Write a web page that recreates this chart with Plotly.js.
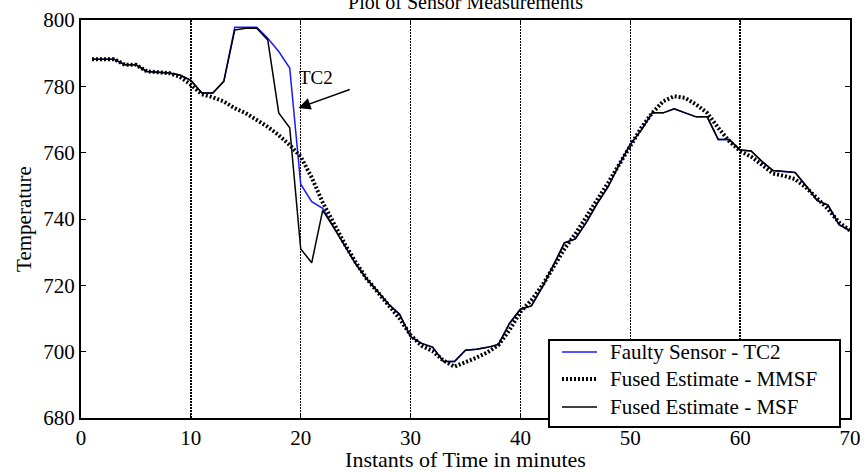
<!DOCTYPE html>
<html>
<head>
<meta charset="utf-8">
<script src="https://cdn.plot.ly/plotly-3.0.1.min.js"></script>
<style>
  html, body { margin: 0; padding: 0; background: #fff; }
  #chart { width: 867px; height: 472px; }
</style>
</head>
<body>
<div id="chart"></div>
<script>
// Time instants (minutes)
const minutes = [
  1, 2, 3, 4, 5, 6, 7, 8, 9, 10,
  11, 12, 13, 14, 15, 16, 17, 18, 19, 20,
  21, 22, 23, 24, 25, 26, 27, 28, 29, 30,
  31, 32, 33, 34, 35, 36, 37, 38, 39, 40,
  41, 42, 43, 44, 45, 46, 47, 48, 49, 50,
  51, 52, 53, 54, 55, 56, 57, 58, 59, 60,
  61, 62, 63, 64, 65, 66, 67, 68, 69, 70
];

// Raw reading of the faulty thermocouple TC2
const faultyTC2 = [
  788.2, 788.2, 788.2, 786.5, 786.5, 784.5, 784.2, 784.0, 783.4, 781.8,
  778.0, 778.0, 781.5, 797.8, 797.8, 797.8, 794.5, 790.5, 785.5, 750.5,
  745.2, 743.2, 737.5, 732.0, 726.5, 722.0, 718.0, 714.3, 711.3, 704.5,
  702.5, 701.4, 697.0, 697.0, 700.4, 700.7, 701.3, 702.2, 708.5, 712.8,
  713.8, 719.5, 726.0, 732.8, 734.0, 739.0, 744.7, 749.8, 756.5, 762.5,
  766.8, 772.0, 772.0, 773.2, 772.0, 770.8, 770.8, 764.0, 764.0, 760.8,
  760.5, 757.3, 754.6, 754.4, 754.0, 750.0, 745.6, 744.2, 738.3, 736.5
];

// Fused estimate from the MMSF algorithm
const fusedMMSF = [
  788.2, 788.2, 788.2, 786.5, 786.5, 784.5, 784.2, 784.0, 782.9, 780.5,
  777.6, 776.7, 775.4, 773.4, 771.9, 770.0, 767.8, 765.3, 762.3, 758.8,
  752.5, 745.0, 738.5, 732.5, 727.0, 722.0, 718.0, 714.0, 710.0, 705.0,
  701.8, 700.2, 697.3, 695.5, 696.8, 698.2, 699.8, 702.0, 706.5, 712.0,
  715.5, 720.0, 725.5, 731.0, 735.5, 740.5, 746.0, 751.0, 756.5, 762.0,
  767.5, 772.0, 775.5, 777.0, 776.5, 774.5, 772.0, 767.5, 763.5, 760.5,
  758.8, 756.3, 753.7, 753.0, 752.0, 749.5, 746.3, 743.0, 739.0, 736.5
];

// Fused estimate from the MSF algorithm
const fusedMSF = [
  788.2, 788.2, 788.2, 786.5, 786.5, 784.5, 784.2, 784.0, 783.4, 781.8,
  778.0, 778.0, 781.5, 797.0, 797.5, 797.5, 794.0, 772.0, 767.5, 731.0,
  726.8, 742.6, 737.5, 732.0, 726.5, 722.0, 718.0, 714.3, 711.3, 704.5,
  702.5, 701.4, 697.0, 697.0, 700.4, 700.7, 701.3, 702.2, 708.5, 712.8,
  713.8, 719.5, 726.0, 732.8, 734.0, 739.0, 744.7, 749.8, 756.5, 762.5,
  766.8, 772.0, 772.0, 773.2, 772.0, 770.8, 770.8, 764.0, 764.0, 760.8,
  760.5, 757.3, 754.6, 754.4, 754.0, 750.0, 745.6, 744.2, 738.3, 736.5
];

const seriesNames = ['Faulty Sensor - TC2', 'Fused Estimate - MMSF', 'Fused Estimate - MSF'];
const xTicks = [0, 10, 20, 30, 40, 50, 60, 70];
const yTicks = [680, 700, 720, 740, 760, 780, 800];

// Arrow pointing at the TC2 trace: [tip x, tip y, tail x, tail y]
const tc2Arrow = [19.8, 773.5, 24.6, 779.2];
const tc2Label = [21.4, 782.8];

const serif = 'Liberation Serif, Times New Roman, serif';

const lineStyles = [
  { color: '#1a1aff', width: 1.5 },
  { color: '#000', width: 4, dash: '2px,2px' },
  { color: '#000', width: 1.5 }
];
const seriesData = [faultyTC2, fusedMMSF, fusedMSF];

const traces = seriesData.map((vals, i) => ({
  x: minutes, y: vals, name: seriesNames[i], type: 'scatter', mode: 'lines',
  line: lineStyles[i], showlegend: false
}));

// Boxed key in the lower right corner of the axes (paper coordinates)
const keyBox = { x0: 0.6086, x1: 0.987, y0: -0.0226, y1: 0.196 };
const keyRows = [0.1658, 0.098, 0.0276];
const keySample = [0.6255, 0.671];
const keyTextX = 0.6853;

const shapes = [
  {
    type: 'rect', xref: 'paper', yref: 'paper', layer: 'above',
    x0: keyBox.x0, x1: keyBox.x1, y0: keyBox.y0, y1: keyBox.y1,
    fillcolor: '#fff', line: { color: '#000', width: 2 }
  }
].concat(keyRows.map((ry, i) => ({
  type: 'line', xref: 'paper', yref: 'paper', layer: 'above',
  x0: keySample[0], x1: keySample[1], y0: ry, y1: ry,
  line: lineStyles[i]
})));

const keyLabels = keyRows.map((ry, i) => ({
  xref: 'paper', yref: 'paper', x: keyTextX, y: ry,
  xanchor: 'left', yanchor: 'middle', showarrow: false,
  text: seriesNames[i],
  font: { family: serif, size: 21, color: '#000' }
}));

const layout = {
  width: 867, height: 472,
  margin: { l: 81, r: 17, t: 20, b: 54 },
  paper_bgcolor: '#fff', plot_bgcolor: '#fff',
  font: { family: serif, size: 21, color: '#000' },
  title: {
    text: 'Plot of Sensor Measurements',
    font: { family: serif, size: 20, color: '#000' },
    x: 0.537, xanchor: 'center',
    y: 0.996, yref: 'container', yanchor: 'middle'
  },
  showlegend: false,
  xaxis: {
    range: [0, 70], tickvals: xTicks, ticktext: xTicks.map(String),
    ticks: 'inside', ticklen: 5, tickcolor: '#000', tickwidth: 1,
    showline: true, linecolor: '#000', linewidth: 2, mirror: 'ticks',
    showgrid: true, gridcolor: '#000', gridwidth: 1.3, griddash: '2px,1px',
    zeroline: false,
    tickfont: { family: serif, size: 21, color: '#000' },
    title: { text: 'Instants of Time in minutes', font: { family: serif, size: 22, color: '#000' }, standoff: 2 }
  },
  yaxis: {
    range: [680, 800], tickvals: yTicks, ticktext: yTicks.map(String),
    ticks: 'inside', ticklen: 5, tickcolor: '#000', tickwidth: 1,
    showline: true, linecolor: '#000', linewidth: 2, mirror: 'ticks',
    showgrid: false, zeroline: false,
    tickfont: { family: serif, size: 21, color: '#000' },
    title: { text: 'Temperature', font: { family: serif, size: 21, color: '#000' }, standoff: 6 }
  },
  shapes: shapes,
  annotations: [
    {
      x: tc2Arrow[0], y: tc2Arrow[1], xref: 'x', yref: 'y',
      ax: tc2Arrow[2], ay: tc2Arrow[3], axref: 'x', ayref: 'y',
      text: '', showarrow: true, arrowhead: 2, arrowsize: 1.6, arrowwidth: 1.5, arrowcolor: '#000'
    },
    {
      x: tc2Label[0], y: tc2Label[1], xref: 'x', yref: 'y',
      text: 'TC2', showarrow: false,
      font: { family: serif, size: 19, color: '#000' }
    }
  ].concat(keyLabels)
};

Plotly.newPlot('chart', traces, layout, { displayModeBar: false, staticPlot: true });
</script>
</body>
</html>
